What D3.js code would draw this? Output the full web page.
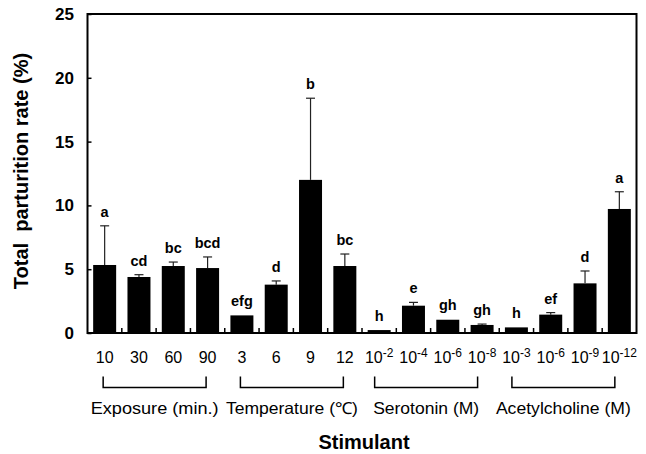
<!DOCTYPE html>
<html><head><meta charset="utf-8">
<script src="https://cdn.jsdelivr.net/npm/d3@7"></script>
<style>
html,body{margin:0;padding:0;background:#fff;}
svg{display:block;font-family:"Liberation Sans",Arial,sans-serif;}
</style></head>
<body><svg id="c" width="646" height="454"></svg>
<script>
// ---- data ----
const tickBase = ["10","30","60","90","3","6","9","12","10","10","10","10","10","10","10","10"];
const tickExp  = ["","","","","","","","","-2","-4","-6","-8","-3","-6","-9","-12"];
const categories = tickBase.map((b,i)=>i+":"+b+tickExp[i]);
const means  = [5.33, 4.39, 5.25, 5.09, 1.38, 3.79, 12.0, 5.25, 0.23, 2.14, 1.04, 0.63, 0.44, 1.44, 3.89, 9.72];
const errors = [3.07, 0.18, 0.31, 0.87, 0.04, 0.29, 6.40, 0.94, 0.02, 0.26, 0.02, 0.07, 0.01, 0.16, 0.97, 1.35];
const letters = ["a","cd","bc","bcd","efg","d","b","bc","h","e","gh","gh","h","ef","d","a"];
const groupNames = ["Exposure (min.)","Temperature (\u2103)","Serotonin (M)","Acetylcholine (M)"];
const groupSizes = [4,4,4,4];
const yTicks = [0,5,10,15,20,25];

// ---- layout ----
const L=87.5, R=636.5, T=14, B=333;
const svg = d3.select("#c");
const y = d3.scaleLinear().domain([0,25]).range([B,T]);
const x = d3.scaleBand().domain(categories).range([L,R]).paddingInner(0.33).paddingOuter(0.165);
const step = x.step(), bw = x.bandwidth();

// bars
svg.append("g").selectAll("rect").data(means).join("rect")
  .attr("x",(d,i)=>x(categories[i]))
  .attr("y",d=>y(d))
  .attr("width",bw)
  .attr("height",d=>B-y(d))
  .attr("fill","#000");

// error bars (upper only)
const eg = svg.append("g").attr("stroke","#222").attr("stroke-width",1.2);
means.forEach((m,i)=>{
  if(errors[i] < 0.05) return;
  const cx = x(categories[i]) + bw/2;
  eg.append("line").attr("x1",cx).attr("x2",cx).attr("y1",y(m)).attr("y2",y(m+errors[i]));
  eg.append("line").attr("x1",cx-4.5).attr("x2",cx+4.5).attr("y1",y(m+errors[i])).attr("y2",y(m+errors[i]));
});

// letters
svg.append("g").selectAll("text").data(letters).join("text")
  .attr("x",(d,i)=>x(categories[i])+bw/2)
  .attr("y",(d,i)=>y(means[i]+errors[i]) - 9)
  .attr("text-anchor","middle")
  .attr("font-size",14.5).attr("font-weight","bold")
  .text(d=>d);

// y axis
const ya = svg.append("g").attr("transform",`translate(${L},0)`)
  .call(d3.axisLeft(y).tickValues(yTicks).tickSize(-4).tickPadding(13.5).tickFormat(d3.format("d")));
ya.select(".domain").remove();
ya.selectAll(".tick line").attr("stroke","#000").attr("stroke-width",1.5);
ya.selectAll(".tick text").attr("font-size",17).attr("font-weight","bold").attr("fill","#000")
  .attr("font-family","'Liberation Sans',Arial,sans-serif");

// bottom inner ticks at band boundaries
const tg = svg.append("g").attr("stroke","#000").attr("stroke-width",1.5);
categories.forEach((c,i)=>{
  if(i===0) return;
  const bx = x(c) - (step-bw)/2;
  tg.append("line").attr("x1",bx).attr("x2",bx).attr("y1",B).attr("y2",B-5);
});

// frame
svg.append("rect").attr("x",L).attr("y",T).attr("width",R-L).attr("height",B-T)
  .attr("fill","none").attr("stroke","#000").attr("stroke-width",2);

// x tick labels
const xl = svg.append("g");
categories.forEach((c,i)=>{
  const t = xl.append("text")
    .attr("x",x(c)+bw/2).attr("y",363)
    .attr("text-anchor","middle").attr("font-size",16);
  t.append("tspan").text(tickBase[i]);
  if(tickExp[i]) t.append("tspan").attr("font-size",12).attr("dy",-6).text(tickExp[i]);
});

// brackets and group names
const bg = svg.append("g");
let start = 0;
groupNames.forEach((g,gi)=>{
  const n = groupSizes[gi];
  const off = gi<2 ? -1.5 : -4.5;
  const x1 = x(categories[start]) + bw/2 + off;
  const x2 = x(categories[start+n-1]) + bw/2 + off;
  bg.append("path").attr("d",`M${x1},376.5V387.5H${x2}V376.5`)
    .attr("fill","none").attr("stroke","#000").attr("stroke-width",1.5);
  bg.append("text").attr("x",(x1+x2)/2).attr("y",414)
    .attr("text-anchor","middle").attr("font-size",16.5)
    .attr("textLength", [128,132,106,135][gi]).attr("lengthAdjust","spacingAndGlyphs")
    .text(g);
  start += n;
});

// axis titles
svg.append("text").attr("x",(L+R)/2+2).attr("y",449)
  .attr("text-anchor","middle").attr("font-size",20).attr("font-weight","bold").text("Stimulant");
svg.append("text").attr("transform",`translate(28,${171}) rotate(-90)`)
  .attr("text-anchor","middle").attr("font-size",20).attr("font-weight","bold")
  .attr("xml:space","preserve").style("white-space","pre")
  .text("Total  parturition rate (%)");
</script>
</body></html>
